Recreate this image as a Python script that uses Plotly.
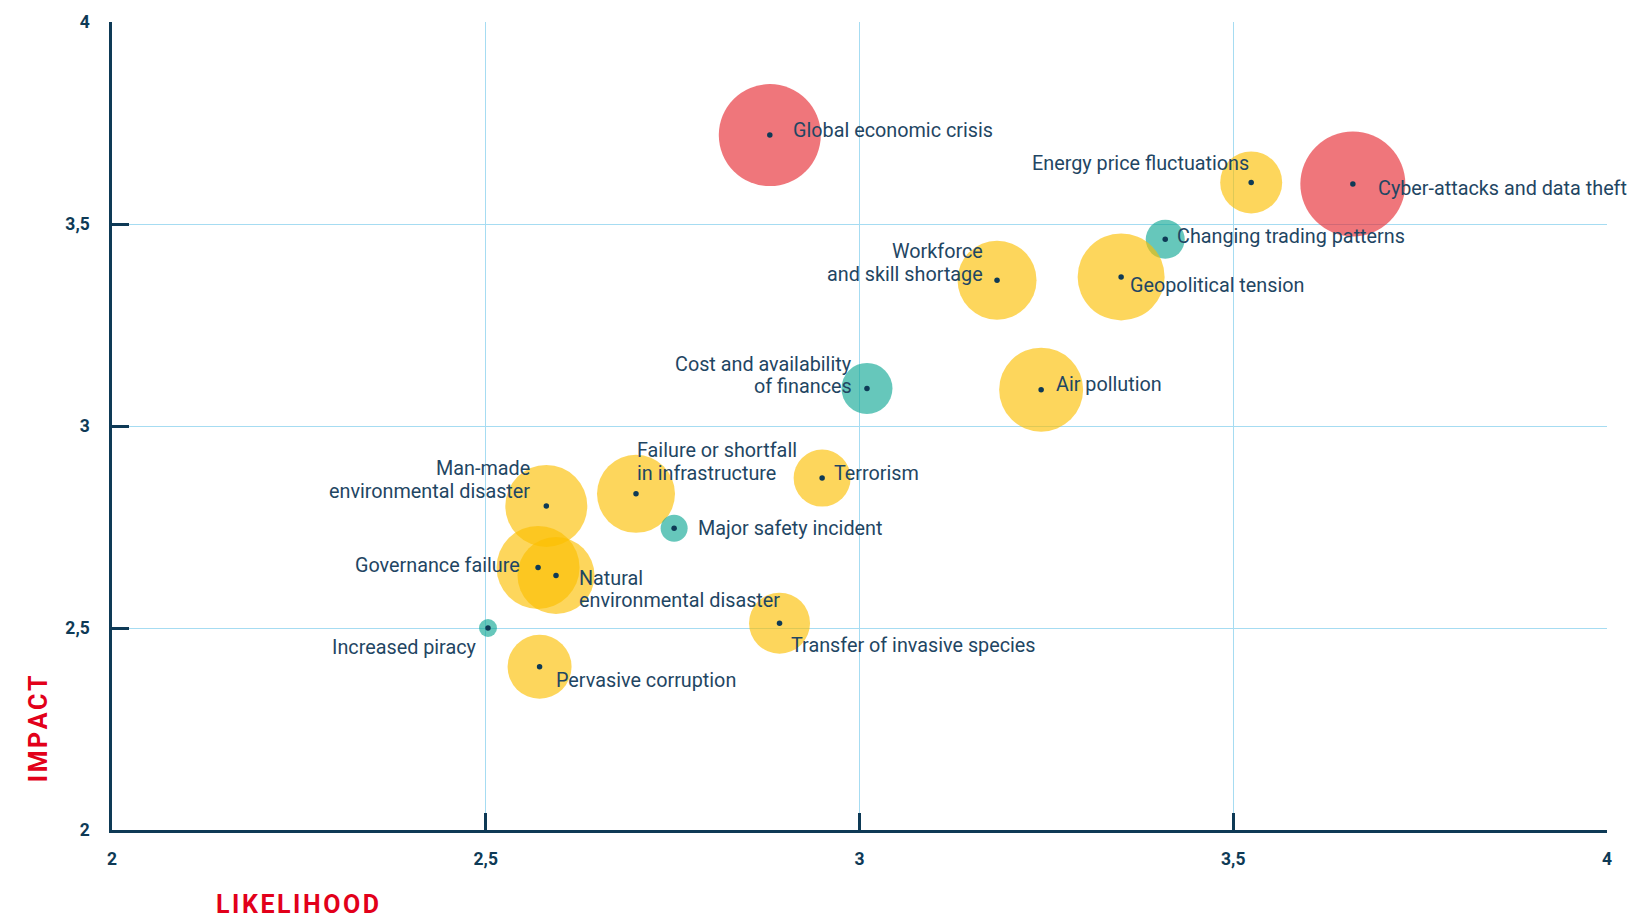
import plotly.graph_objects as go

# ---------------- data ----------------
risks = [
    "Global economic crisis",
    "Energy price fluctuations",
    "Cyber-attacks and data theft",
    "Changing trading patterns",
    "Geopolitical tension",
    "Workforce<br>and skill shortage",
    "Cost and availability<br>of finances",
    "Air pollution",
    "Terrorism",
    "Failure or shortfall<br>in infrastructure",
    "Man-made<br>environmental disaster",
    "Major safety incident",
    "Governance failure",
    "Natural<br>environmental disaster",
    "Increased piracy",
    "Pervasive corruption",
    "Transfer of invasive species",
]
likelihood = [2.88, 3.524, 3.66, 3.409, 3.35, 3.184, 3.01, 3.243, 2.95,
              2.701, 2.581, 2.752, 2.57, 2.594, 2.503, 2.572, 2.893]
impact = [3.72, 3.603, 3.599, 3.462, 3.369, 3.361, 3.093, 3.09, 2.871,
          2.832, 2.802, 2.747, 2.65, 2.63, 2.50, 2.404, 2.512]
weight = [102, 62, 105, 39, 87, 79, 51, 84, 57,
          78, 82, 27, 83, 77, 18, 64, 61]
group = ["red", "yellow", "red", "teal", "yellow", "yellow", "teal", "yellow", "yellow",
         "yellow", "yellow", "teal", "yellow", "yellow", "teal", "yellow", "yellow"]

x_ticks = [2, 2.5, 3, 3.5, 4]
x_tick_labels = ["2", "2,5", "3", "3,5", "4"]
y_ticks = [2, 2.5, 3, 3.5, 4]
y_tick_labels = ["2", "2,5", "3", "3,5", "4"]

# ---------------- styles ----------------
NAVY = "#0E3A56"
TEXT = "#1F4663"
GRID = "#A6DCF2"
RED_TITLE = "#E2001A"
group_colors = {
    "red": "rgba(230,41,49,0.64)",
    "yellow": "rgba(252,191,0,0.64)",
    "teal": "rgba(16,167,149,0.64)",
}
FONT = "Roboto"
LABEL_SIZE = 19.8
LINE_GAP = 22.7

# label placement: (side, dx px, dy px)
label_pos = [
    ("left", 21, 5),
    ("right", 0, 19),
    ("left", 23, -4),
    ("left", 10, 3),
    ("left", 7, -9),
    ("right", -12, 17),
    ("right", -13, 13),
    ("left", 13, 5),
    ("left", 10, 5),
    ("left", -1, 32),
    ("right", -14, 26),
    ("left", 22, 0),
    ("right", -16, 2),
    ("left", 21, -14),
    ("right", -9, -19),
    ("left", 14, -14),
    ("left", 9, -22),
]

fig = go.Figure()

fig.add_trace(go.Scatter(
    x=likelihood, y=impact, mode="markers",
    marker=dict(size=weight, sizemode="diameter", sizeref=1, opacity=1,
                color=[group_colors[g] for g in group], line=dict(width=0)),
    hoverinfo="skip", showlegend=False,
))
fig.add_trace(go.Scatter(
    x=likelihood, y=impact, mode="markers",
    marker=dict(size=5.5, color=NAVY, opacity=1, line=dict(width=0)),
    hoverinfo="skip", showlegend=False,
))

for name, lx, ly, (side, dx, dy) in zip(risks, likelihood, impact, label_pos):
    lines = name.split("<br>")
    n = len(lines)
    for i, line in enumerate(lines):
        off = ((n - 1) / 2 - i) * LINE_GAP
        fig.add_annotation(
            x=lx, y=ly, xref="x", yref="y", text=line, showarrow=False,
            xanchor=side, yanchor="middle", align=side,
            xshift=dx, yshift=dy + off,
            font=dict(family=FONT, size=LABEL_SIZE, color=TEXT),
        )

# axis titles
fig.add_annotation(
    text="\u200a".join("IMPACT"), xref="paper", yref="paper",
    x=-0.0495, y=0.126, textangle=-90, showarrow=False,
    xanchor="center", yanchor="middle",
    font=dict(family=FONT, size=25, color=RED_TITLE, weight="bold"),
)
fig.add_annotation(
    text="\u200a".join("LIKELIHOOD"), xref="paper", yref="paper",
    x=0.1244, y=-0.092, showarrow=False,
    xanchor="center", yanchor="middle",
    font=dict(family=FONT, size=25, color=RED_TITLE, weight="bold"),
)

axis_common = dict(
    range=[2, 4], showgrid=True, gridcolor=GRID, gridwidth=1.2,
    zeroline=False, showline=True, linecolor=NAVY, linewidth=2.5,
    ticks="inside", ticklen=17, tickwidth=2.5, tickcolor=NAVY,
    tickfont=dict(family=FONT, size=17.5, color=NAVY, weight="bold"),
    fixedrange=True,
)
fig.update_xaxes(tickvals=x_ticks, ticktext=x_tick_labels, ticklabelstandoff=11, **axis_common)
fig.update_yaxes(tickvals=y_ticks, ticktext=y_tick_labels, ticklabelstandoff=16, **axis_common)

fig.update_layout(
    width=1637, height=922,
    margin=dict(l=112, r=30, t=20, b=92),
    plot_bgcolor="white", paper_bgcolor="white",
    showlegend=False,
)

fig.write_html("out.html")
